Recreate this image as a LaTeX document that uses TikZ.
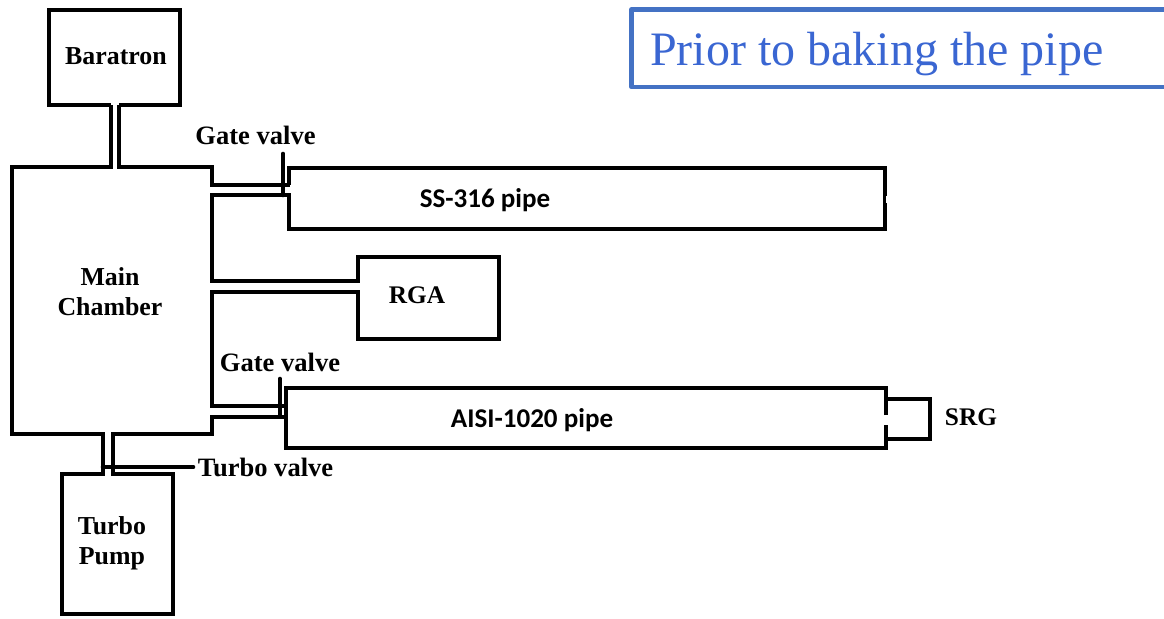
\documentclass[tikz,border=0pt]{standalone}
\usepackage{fontspec}
\setmainfont{Liberation Serif}
\newfontfamily\calfont{Carlito}
\definecolor{boxblue}{HTML}{4472C4}
\definecolor{titleblue}{HTML}{3A66D2}
\tikzset{
  pipeline/.style={draw=black,line width=3.5pt,line join=miter,line cap=butt},
  lab/.style={inner sep=0pt,font=\fontsize{19.4pt}{22.5pt}\selectfont\bfseries,align=center,text=black},
  vlab/.style={inner sep=0pt,font=\fontsize{19.9pt}{23pt}\selectfont\bfseries,text=black},
  cal/.style={inner sep=0pt,font=\calfont\fontsize{20.3pt}{24pt}\selectfont\bfseries,text=black},
}
\begin{document}
\begin{tikzpicture}[x=0.75pt,y=-0.75pt]
\useasboundingbox (0,0) rectangle (1164,618);
% title box
\draw[boxblue,line width=3.4pt,line join=round] (1164,9.500) -- (631.500,9.500) -- (631.500,87) -- (1164,87);
\node[anchor=base west,inner sep=0pt,text=titleblue,font=\fontsize{36pt}{40pt}\selectfont] (title) at (650,65) {Prior to baking the pipe};
% baratron
\draw[pipeline] (111,105) -- (49,105) -- (49,10) -- (180,10) -- (180,105) -- (119,105);
% chamber outline, left and lower part, through the turbo pump
\draw[pipeline] (111,105) -- (111,167) -- (12,167) -- (12,434) -- (103,434) -- (103,474) -- (62,474) -- (62,614) -- (173,614) -- (173,474) -- (113,474) -- (113,434) -- (212,434) -- (212,417) -- (286,417);
% upper right wall and SS pipe
\draw[pipeline] (119,105) -- (119,167) -- (212,167) -- (212,185) -- (290,185);
\draw[pipeline] (289,185) -- (289,168) -- (885,168) -- (885,229) -- (289,229) -- (289,195) -- (212,195) -- (212,281) -- (358,281) -- (358,257) -- (499,257) -- (499,339) -- (358,339) -- (358,292) -- (212,292) -- (212,406) -- (287,406);
% AISI pipe
\draw[pipeline] (886,415) -- (886,388) -- (286,388) -- (286,448) -- (886,448) -- (886,425);
\draw[pipeline] (286,417) -- (286,430);
% SRG
\draw[pipeline] (886,399) -- (930,399) -- (930,439) -- (886,439);
% valves
\draw[pipeline,line cap=round] (283,154) -- (283,195);
\draw[pipeline,line cap=round] (280,379) -- (280,415);
\draw[pipeline,line cap=round] (103,467) -- (193,467);
% small nick in the right end of the SS pipe
\fill[white] (886,196) rectangle (888.500,203);
% labels
\node[lab] (baratron) at (116,56.500) {Baratron};
\node[vlab] (gate1) at (255.500,135) {Gate valve};
\node[lab] (chamber) at (110,291.500) {Main\\Chamber};
\node[lab,font=\fontsize{19pt}{23pt}\selectfont\bfseries] (rga) at (417,295) {RGA};
\node[vlab] (gate2) at (280,362) {Gate valve};
\node[vlab] (turbov) at (265.500,467) {Turbo valve};
\node[lab] (pump) at (112,543) {Turbo\\Pump};
\node[lab,font=\fontsize{19pt}{23pt}\selectfont\bfseries] (srg) at (971,417.500) {SRG};
\node[cal] (ss) at (485,200) {SS-316 pipe};
\node[cal] (aisi) at (532,420) {AISI-1020 pipe};
\end{tikzpicture}
\end{document}
